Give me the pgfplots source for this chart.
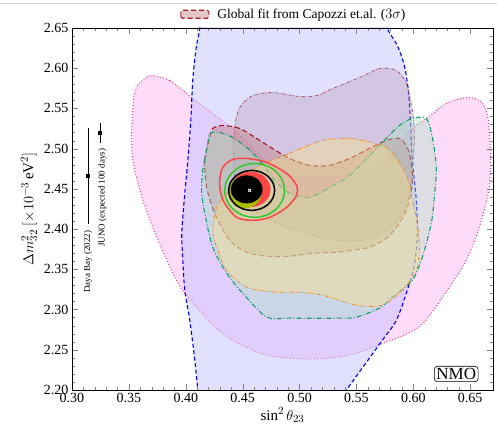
\documentclass[border=0pt]{standalone}
\usepackage{fontspec}
\setmainfont{Liberation Serif}
\usepackage{pgfplots}
\pgfplotsset{compat=1.18}
\definecolor{bluefill}{RGB}{195,195,255}
\definecolor{pinkfill}{RGB}{255,175,245}
\definecolor{pinkline}{RGB}{235,60,130}
\definecolor{mauvefill}{RGB}{180,145,170}
\definecolor{mauveline}{RGB}{165,95,115}
\definecolor{gfill}{RGB}{190,115,115}
\definecolor{gline}{RGB}{165,25,35}
\definecolor{greenfill}{RGB}{170,225,195}
\definecolor{greenline}{RGB}{20,160,110}
\definecolor{orfill}{RGB}{245,225,140}
\definecolor{orline}{RGB}{245,140,40}
\definecolor{redc}{RGB}{250,70,70}
\definecolor{olive}{RGB}{170,190,0}
\definecolor{greenc}{RGB}{50,200,50}
\begin{document}
\begin{tikzpicture}
\begin{axis}[
  scale only axis, width=421pt, height=362pt,
  xmin=0.30, xmax=0.67, ymin=2.20, ymax=2.65,
  xtick={0.30,0.35,0.40,0.45,0.50,0.55,0.60,0.65},
  ytick={2.20,2.25,2.30,2.35,2.40,2.45,2.50,2.55,2.60,2.65},
  minor x tick num=4, minor y tick num=4,
  tick align=inside, major tick length=6pt, minor tick length=3pt,
  /pgf/number format/assume math mode=true,
  xticklabel style={/pgf/number format/.cd,fixed,fixed zerofill,precision=2},
  yticklabel style={/pgf/number format/.cd,fixed,fixed zerofill,precision=2},
  ticklabel style={font=\fontsize{14}{14}\selectfont},
  xlabel={$\sin^2\theta_{23}$},
  ylabel={$\Delta m^2_{32}\ [\times 10^{-3}\,\mathrm{eV}^2]$},
  label style={font=\fontsize{15}{15}\selectfont},
  xlabel style={yshift=2pt},
  axis on top,
  legend style={at={(0.527,1)}, anchor=south, yshift=6pt, draw=none, fill=none,
    font=\fontsize{13.5}{13.5}\selectfont, inner sep=0pt},
  legend image code/.code={\draw[#1, rounded corners=1.5pt] (0pt,-4pt) rectangle (28pt,4pt); \path (34pt,0pt);},
]
% pink dotted
\addplot[forget plot, fill=pinkfill, fill opacity=0.45, draw=pinkline, dotted, line width=1pt, smooth cycle, tension=0.5] coordinates {
(0.3702,2.5908) (0.3860,2.5846) (0.4061,2.5623) (0.4237,2.5437) (0.4430,2.5226)
(0.4605,2.4978) (0.4781,2.4754) (0.5000,2.4643) (0.5263,2.4643) (0.5526,2.4705)
(0.5746,2.4854) (0.5877,2.5065) (0.5991,2.5251) (0.6114,2.5375) (0.6289,2.5561)
(0.6465,2.5635) (0.6579,2.5598) (0.6649,2.5437) (0.6675,2.5015) (0.6667,2.4519)
(0.6579,2.4022) (0.6465,2.3613) (0.6316,2.3278) (0.6096,2.2844) (0.5921,2.2682)
(0.5763,2.2596) (0.5439,2.2434) (0.5088,2.2385) (0.4711,2.2434) (0.4412,2.2620)
(0.4211,2.2844) (0.3991,2.3203) (0.3886,2.3452) (0.3746,2.3898) (0.3623,2.4357)
(0.3535,2.4854) (0.3526,2.5263) (0.3553,2.5722) (0.3640,2.5871)};
% blue dashed
\addplot[forget plot, fill=bluefill, fill opacity=0.5, draw=blue, dash pattern=on 4pt off 2.5pt, line width=1.1pt, smooth cycle, tension=0.5] coordinates {
(0.4160,2.6750) (0.4500,2.7200) (0.5300,2.7200) (0.5740,2.6700)
(0.5772,2.6491) (0.5860,2.6280) (0.5921,2.6032) (0.5956,2.5722) (0.5974,2.5350)
(0.5991,2.4854) (0.6026,2.4357) (0.6035,2.3923) (0.6009,2.3551) (0.5947,2.3241)
(0.5851,2.2868) (0.5728,2.2620) (0.5570,2.2310) (0.5412,2.2000) (0.5300,2.1750)
(0.4800,2.1600) (0.4120,2.1750)
(0.4105,2.2000) (0.4079,2.2372) (0.4035,2.2868) (0.3991,2.3241) (0.3974,2.3613)
(0.3965,2.3948) (0.3991,2.4444) (0.4018,2.4854) (0.4044,2.5350) (0.4061,2.5846)
(0.4088,2.6218) (0.4123,2.6491)};
% mauve dash-dot
\addplot[forget plot, fill=mauvefill, fill opacity=0.33, draw=mauveline, dash pattern=on 3pt off 1.5pt on 0.8pt off 1.5pt, line width=0.9pt, smooth cycle, tension=0.5] coordinates {
(0.4430,2.5263) (0.4474,2.5511) (0.4588,2.5660) (0.4763,2.5697) (0.5000,2.5648)
(0.5149,2.5660) (0.5289,2.5747) (0.5526,2.5883) (0.5702,2.5995) (0.5851,2.5970)
(0.5939,2.5809) (0.5991,2.5474) (0.6009,2.5189) (0.6000,2.4854) (0.5965,2.4419)
(0.5877,2.4134) (0.5728,2.3960) (0.5553,2.3861) (0.5263,2.3873) (0.4886,2.4022)
(0.4693,2.4146) (0.4544,2.4270) (0.4447,2.4481) (0.4421,2.4854)};
% global fit dashed
\addplot[fill=gfill, fill opacity=0.4, draw=gline, dash pattern=on 5pt off 3pt, line width=1.1pt, smooth cycle, tension=0.5] coordinates {
(0.4184,2.4519) (0.4167,2.4854) (0.4211,2.5139) (0.4237,2.5251) (0.4325,2.5288)
(0.4474,2.5251) (0.4623,2.5127) (0.4763,2.5002) (0.4912,2.4878) (0.5088,2.4792)
(0.5263,2.4792) (0.5439,2.4878) (0.5614,2.5002) (0.5763,2.5102) (0.5877,2.5127)
(0.5947,2.5015) (0.5982,2.4816) (0.5991,2.4568) (0.5947,2.4270) (0.5877,2.4072)
(0.5763,2.3886) (0.5614,2.3774) (0.5465,2.3737) (0.5325,2.3712) (0.5114,2.3700)
(0.4912,2.3663) (0.4711,2.3663) (0.4535,2.3712) (0.4386,2.3861) (0.4254,2.4196)};
\addlegendentry{Global fit from Capozzi et.al. ($3\sigma$)}
% green dash-dot
\addplot[forget plot, fill=greenfill, fill opacity=0.4, draw=greenline, dash pattern=on 5pt off 2pt on 1pt off 2pt, line width=1.1pt, smooth cycle, tension=0.5] coordinates {
(0.4211,2.5189) (0.4298,2.5201) (0.4412,2.5139) (0.4535,2.5015) (0.4649,2.4854)
(0.4781,2.4605) (0.4912,2.4444) (0.5088,2.4395) (0.5263,2.4519) (0.5439,2.4667)
(0.5702,2.5040) (0.5877,2.5288) (0.5991,2.5375) (0.6114,2.5375) (0.6167,2.5139)
(0.6202,2.4767) (0.6184,2.4395) (0.6158,2.4072) (0.6079,2.3650) (0.5991,2.3365)
(0.5816,2.3154) (0.5702,2.3017) (0.5500,2.2906) (0.5351,2.2893) (0.4912,2.2893)
(0.4711,2.2906) (0.4500,2.3203) (0.4360,2.3452) (0.4237,2.3774) (0.4167,2.4196)
(0.4140,2.4444) (0.4149,2.4730) (0.4193,2.5065)};
% orange dash-dot-dot
\addplot[forget plot, fill=orfill, fill opacity=0.45, draw=orline, dash pattern=on 3pt off 1.5pt on 0.8pt off 1.5pt on 0.8pt off 1.5pt, line width=0.9pt, smooth cycle, tension=0.5] coordinates {
(0.4711,2.4829) (0.4912,2.4940) (0.5202,2.5102) (0.5439,2.5127) (0.5553,2.5102)
(0.5728,2.5040) (0.5816,2.4940) (0.5904,2.4767) (0.5965,2.4568) (0.5991,2.4357)
(0.6035,2.4072) (0.6053,2.3774) (0.6026,2.3489) (0.5904,2.3241) (0.5728,2.3055)
(0.5500,2.3055) (0.5202,2.3179) (0.5000,2.3216) (0.4798,2.3216) (0.4535,2.3278)
(0.4360,2.3489) (0.4272,2.3774) (0.4237,2.3985) (0.4272,2.4270) (0.4386,2.4481)
(0.4518,2.4667)};
% JUNO filled contours
\addplot[forget plot, fill=redc, draw=none, smooth cycle] coordinates {
(0.4745,2.4494) (0.4732,2.4578) (0.4694,2.4650) (0.4637,2.4697) (0.4570,2.4714)
(0.4503,2.4697) (0.4446,2.4650) (0.4408,2.4578) (0.4395,2.4494) (0.4408,2.4410)
(0.4446,2.4338) (0.4503,2.4291) (0.4570,2.4274) (0.4637,2.4291) (0.4694,2.4338)
(0.4732,2.4410)};
\addplot[forget plot, fill=olive, draw=none, smooth cycle] coordinates {
(0.4667,2.4457) (0.4656,2.4533) (0.4623,2.4598) (0.4575,2.4641) (0.4518,2.4656)
(0.4461,2.4641) (0.4413,2.4598) (0.4380,2.4533) (0.4369,2.4457) (0.4380,2.4381)
(0.4413,2.4316) (0.4461,2.4273) (0.4518,2.4258) (0.4575,2.4273) (0.4623,2.4316)
(0.4656,2.4381)};
\addplot[forget plot, fill=black, draw=none, smooth cycle] coordinates {
(0.4675,2.4494) (0.4664,2.4561) (0.4634,2.4617) (0.4589,2.4655) (0.4535,2.4668)
(0.4481,2.4655) (0.4436,2.4617) (0.4406,2.4561) (0.4395,2.4494) (0.4406,2.4427)
(0.4436,2.4371) (0.4481,2.4333) (0.4535,2.4320) (0.4589,2.4333) (0.4634,2.4371)
(0.4664,2.4427)};
\addplot[forget plot, draw=black, line width=1.5pt, smooth cycle] coordinates {
(0.4781,2.4481) (0.4766,2.4576) (0.4722,2.4656) (0.4656,2.4710) (0.4579,2.4729)
(0.4502,2.4710) (0.4436,2.4656) (0.4392,2.4576) (0.4377,2.4481) (0.4392,2.4386)
(0.4436,2.4306) (0.4502,2.4252) (0.4579,2.4233) (0.4656,2.4252) (0.4722,2.4306)
(0.4766,2.4386)};
\addplot[forget plot, draw=greenc, line width=1.5pt, smooth cycle] coordinates {
(0.4868,2.4481) (0.4848,2.4609) (0.4791,2.4718) (0.4706,2.4790) (0.4605,2.4816)
(0.4504,2.4790) (0.4419,2.4718) (0.4362,2.4609) (0.4342,2.4481) (0.4362,2.4353)
(0.4419,2.4244) (0.4504,2.4172) (0.4605,2.4146) (0.4706,2.4172) (0.4791,2.4244)
(0.4848,2.4353)};
\addplot[forget plot, draw=redc, line width=1.5pt, smooth cycle] coordinates {
(0.4298,2.4605) (0.4325,2.4767) (0.4412,2.4866) (0.4535,2.4878) (0.4711,2.4829)
(0.4886,2.4692) (0.4974,2.4543) (0.4974,2.4419) (0.4886,2.4270) (0.4737,2.4146)
(0.4588,2.4109) (0.4447,2.4146) (0.4342,2.4320) (0.4307,2.4457)};
\addplot[forget plot, only marks, mark=x, mark size=2pt, white, thick] coordinates {(0.4561,2.4481)};
% Daya Bay and JUNO points
\addplot[forget plot, only marks, mark=square*, mark size=1.4pt, black,
  error bars/.cd, y dir=both, y explicit, error bar style={line width=0.8pt}, error mark=none]
  coordinates {(0.3140,2.466) +- (0,0.060)};
\addplot[forget plot, only marks, mark=square*, mark size=1.4pt, black,
  error bars/.cd, y dir=both, y explicit, error bar style={line width=0.8pt}, error mark=none]
  coordinates {(0.3246,2.520) +- (0,0.0125)};
\node[rotate=90, anchor=east, font=\fontsize{9}{9}\selectfont, inner sep=0pt] at (axis cs:0.3140,2.398) {Daya Bay (2022)};
\node[rotate=90, anchor=east, font=\fontsize{9}{9}\selectfont, inner sep=0pt] at (axis cs:0.3268,2.500) {JUNO (expected 100 days)};
\node[draw, rounded corners=3pt, line width=0.6pt, inner sep=2pt, font=\fontsize{17}{17}\selectfont] at (axis cs:0.6377,2.2199) {NMO};
\end{axis}
\draw[black!15, line width=0.8pt] ([xshift=-72pt,yshift=25pt]current axis.north west) -- ([xshift=4pt,yshift=25pt]current axis.north east);
\pgfresetboundingbox
\path ([xshift=-72pt,yshift=-37pt]current axis.south west) rectangle ([xshift=4pt,yshift=28pt]current axis.north east);
\end{tikzpicture}
\end{document}
